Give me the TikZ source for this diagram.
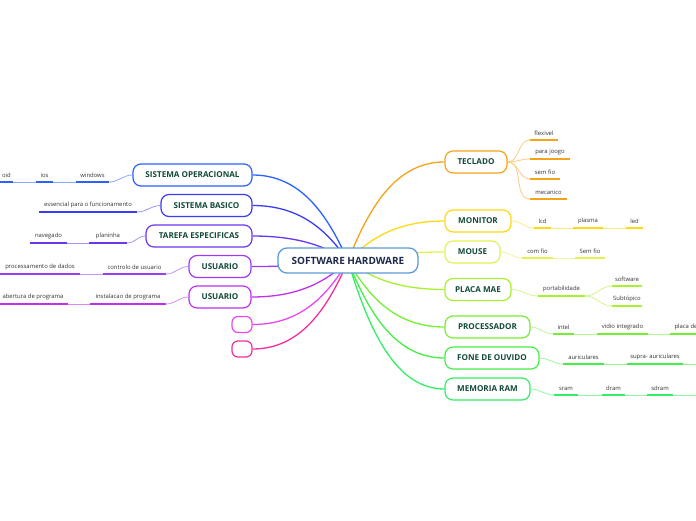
\documentclass[tikz,border=0pt]{standalone}
\usepackage{fontspec}
\setmainfont{Open Sans}
\usetikzlibrary{calc,backgrounds}
\definecolor{rootC}{HTML}{5B9BD5}
\definecolor{rootT}{HTML}{1F2A4A}
\definecolor{brT}{HTML}{124A3A}
\definecolor{kidT}{HTML}{333333}
\definecolor{cSO}{HTML}{2962FF}
\definecolor{cSB}{HTML}{3B3BF5}
\definecolor{cTE}{HTML}{6A36F5}
\definecolor{cU1}{HTML}{9A3CF5}
\definecolor{cU2}{HTML}{BE30F0}
\definecolor{cE1}{HTML}{E848F0}
\definecolor{cE2}{HTML}{F0309E}
\definecolor{cTC}{HTML}{F5A31A}
\definecolor{cMO}{HTML}{FFD814}
\definecolor{cMS}{HTML}{E2F250}
\definecolor{cPM}{HTML}{A8F030}
\definecolor{cPR}{HTML}{77EE33}
\definecolor{cFO}{HTML}{44EE44}
\definecolor{cMR}{HTML}{33EE66}
\tikzset{
  root/.style={draw=rootC, line width=1.3pt, rounded corners=9pt, fill=white,
    minimum width=140pt, minimum height=25pt, inner sep=0pt,
    font=\fontsize{10}{12}\selectfont\bfseries, text=rootT},
  br/.style={draw=#1, line width=1.2pt, rounded corners=8pt, fill=white,
    minimum height=22pt, inner sep=0pt,
    font=\fontsize{8.1}{9.5}\selectfont\bfseries, text=brT},
  kid/.style={inner xsep=0pt, inner ysep=4pt, anchor=south,
    font=\fontsize{5.9}{7}\selectfont, text=kidT},
  ul/.style={draw=#1, line width=1.5pt},
  thinc/.style={draw=#1!55, line width=0.8pt},
  mainc/.style={draw=#1, line width=1.3pt},
}
\newcommand\kid[6]{%
  \node[kid, minimum width=#4pt] (#1) at (#2,#3) {#5};
  \draw[ul=#6] (#1.south west) -- (#1.south east);}
\newcommand\mainlink[2]{%
  \draw[mainc=#2] let \p1=(c), \p2=(#1) in (\p1) .. controls
    ({\x1+0.22*(\x2-\x1)},{\y1+0.55*(\y2-\y1)}) and ({\x1+0.5*(\x2-\x1)},\y2) .. (\p2);}
\begin{document}
\begin{tikzpicture}[x=1pt,y=-1pt]
\useasboundingbox (0,0) rectangle (696,520);
\clip (0,0) rectangle (696,520);
\coordinate (c) at (348,261);
% root
\node[root] (root) at (348,260.5) {SOFTWARE HARDWARE};
% left branches
\node[br=cSO, minimum width=119pt] (SO) at (192.5,175) {SISTEMA OPERACIONAL};
\node[br=cSB, minimum width=91pt] (SB) at (206.5,205.5) {SISTEMA BASICO};
\node[br=cTE, minimum width=106pt] (TE) at (199,236) {TAREFA ESPECIFICAS};
\node[br=cU1, minimum width=62pt] (U1) at (220,266.5) {USUARIO};
\node[br=cU2, minimum width=62pt] (U2) at (220,297) {USUARIO};
\node[br=cE1, minimum width=20pt, minimum height=16pt, rounded corners=6pt] (E1) at (242,324.5) {};
\node[br=cE2, minimum width=20pt, minimum height=16pt, rounded corners=6pt] (E2) at (242,349) {};
% right branches
\node[br=cTC, minimum width=62pt] (TC) at (476,162) {TECLADO};
\node[br=cMO, minimum width=66pt] (MO) at (478,221) {MONITOR};
\node[br=cMS, minimum width=55pt] (MS) at (472.5,252) {MOUSE};
\node[br=cPM, minimum width=66pt] (PM) at (478,289.5) {PLACA MAE};
\node[br=cPR, minimum width=85pt] (PR) at (487.5,327) {PROCESSADOR};
\node[br=cFO, minimum width=94pt] (FO) at (492,358) {FONE DE OUVIDO};
\node[br=cMR, minimum width=85pt] (MR) at (487.5,389) {MEMORIA RAM};
% left kids
\kid{oid}{6.5}{182}{13}{oid}{cSO}
\kid{ios}{44.5}{182}{17}{ios}{cSO}
\kid{win}{92.5}{182}{33}{windows}{cSO}
\kid{ess}{88}{212}{98}{essencial para o funcionamento}{cSB}
\kid{nav}{48.5}{243}{37}{navegado}{cTE}
\kid{pla}{108}{243}{38}{planinha}{cTE}
\kid{pro}{40}{274}{80}{processamento de dados}{cU1}
\kid{con}{134.5}{274}{63}{controlo de usuario}{cU1}
\kid{abe}{33}{304}{70}{abertura de programa}{cU2}
\kid{ins}{128}{304}{76}{instalacao de programa}{cU2}
% right kids
\kid{fle}{544}{140}{28}{flexivel}{cTC}
\kid{jog}{550}{159}{40}{para joogo}{cTC}
\kid{sem}{545}{179}{30}{sem fio}{cTC}
\kid{mec}{548.5}{199}{37}{mecanico}{cTC}
\kid{lcd}{542.5}{228}{17}{lcd}{cMO}
\kid{pls}{588}{228}{30}{plasma}{cMO}
\kid{led}{634.5}{228}{17}{led}{cMO}
\kid{cfi}{537.5}{258}{31}{com fio}{cMS}
\kid{sfi}{590}{258}{30}{Sem fio}{cMS}
\kid{por}{561.5}{296}{47}{portabilidade}{cPM}
\kid{sof}{627}{286}{30}{software}{cPM}
\kid{sub}{627}{306}{30}{Subtópico}{cPM}
\kid{int}{563.5}{334}{21}{intel}{cPR}
\kid{vid}{622.5}{334}{51}{vidio integrado}{cPR}
\kid{plc}{686}{334}{32}{placa de}{cPR}
\kid{aur}{583.5}{364}{41}{auriculares}{cFO}
\kid{sup}{655}{364}{56}{supra- auriculares}{cFO}
\kid{sra}{566}{395}{24}{sram}{cMR}
\kid{dra}{613.5}{395}{23}{dram}{cMR}
\kid{sdr}{660}{395}{26}{sdram}{cMR}
\coordinate (foEnd) at (700,364);
\coordinate (mrEnd) at (700,395);
\begin{scope}[on background layer]
  % main links
  \mainlink{SO.east}{cSO}
  \mainlink{SB.east}{cSB}
  \mainlink{TE.east}{cTE}
  \mainlink{U1.east}{cU1}
  \mainlink{U2.east}{cU2}
  \mainlink{E1.east}{cE1}
  \mainlink{E2.east}{cE2}
  \mainlink{TC.west}{cTC}
  \mainlink{MO.west}{cMO}
  \mainlink{MS.west}{cMS}
  \mainlink{PM.west}{cPM}
  \mainlink{PR.west}{cPR}
  \mainlink{FO.west}{cFO}
  \mainlink{MR.west}{cMR}
  % left sub links
  \draw[thinc=cSO] (SO.west) to[out=180,in=0] (win.south east);
  \draw[thinc=cSO] (win.south west) -- (ios.south east);
  \draw[thinc=cSO] (ios.south west) -- (oid.south east);
  \draw[thinc=cSB] (SB.west) to[out=180,in=0] (ess.south east);
  \draw[thinc=cTE] (TE.west) to[out=180,in=0] (pla.south east);
  \draw[thinc=cTE] (pla.south west) -- (nav.south east);
  \draw[thinc=cU1] (U1.west) to[out=180,in=0] (con.south east);
  \draw[thinc=cU1] (con.south west) -- (pro.south east);
  \draw[thinc=cU2] (U2.west) to[out=180,in=0] (ins.south east);
  \draw[thinc=cU2] (ins.south west) -- (abe.south east);
  % right sub links
  \draw[thinc=cTC] (TC.east) to[out=0,in=180] (fle.south west);
  \draw[thinc=cTC] (TC.east) to[out=0,in=180] (jog.south west);
  \draw[thinc=cTC] (TC.east) to[out=0,in=180] (sem.south west);
  \draw[thinc=cTC] (TC.east) to[out=0,in=180] (mec.south west);
  \draw[thinc=cMO] (MO.east) to[out=0,in=180] (lcd.south west);
  \draw[thinc=cMO] (lcd.south east) -- (pls.south west);
  \draw[thinc=cMO] (pls.south east) -- (led.south west);
  \draw[thinc=cMS] (MS.east) to[out=0,in=180] (cfi.south west);
  \draw[thinc=cMS] (cfi.south east) -- (sfi.south west);
  \draw[thinc=cPM] (PM.east) to[out=0,in=180] (por.south west);
  \draw[thinc=cPM] (por.south east) to[out=0,in=180] (sof.south west);
  \draw[thinc=cPM] (por.south east) to[out=0,in=180] (sub.south west);
  \draw[thinc=cPR] (PR.east) to[out=0,in=180] (int.south west);
  \draw[thinc=cPR] (int.south east) -- (vid.south west);
  \draw[thinc=cPR] (vid.south east) -- (plc.south west);
  \draw[thinc=cFO] (FO.east) to[out=0,in=180] (aur.south west);
  \draw[thinc=cFO] (aur.south east) -- (sup.south west);
  \draw[thinc=cFO] (sup.south east) -- (foEnd);
  \draw[thinc=cMR] (MR.east) to[out=0,in=180] (sra.south west);
  \draw[thinc=cMR] (sra.south east) -- (dra.south west);
  \draw[thinc=cMR] (dra.south east) -- (sdr.south west);
  \draw[thinc=cMR] (sdr.south east) -- (mrEnd);
\end{scope}
\end{tikzpicture}
\end{document}
